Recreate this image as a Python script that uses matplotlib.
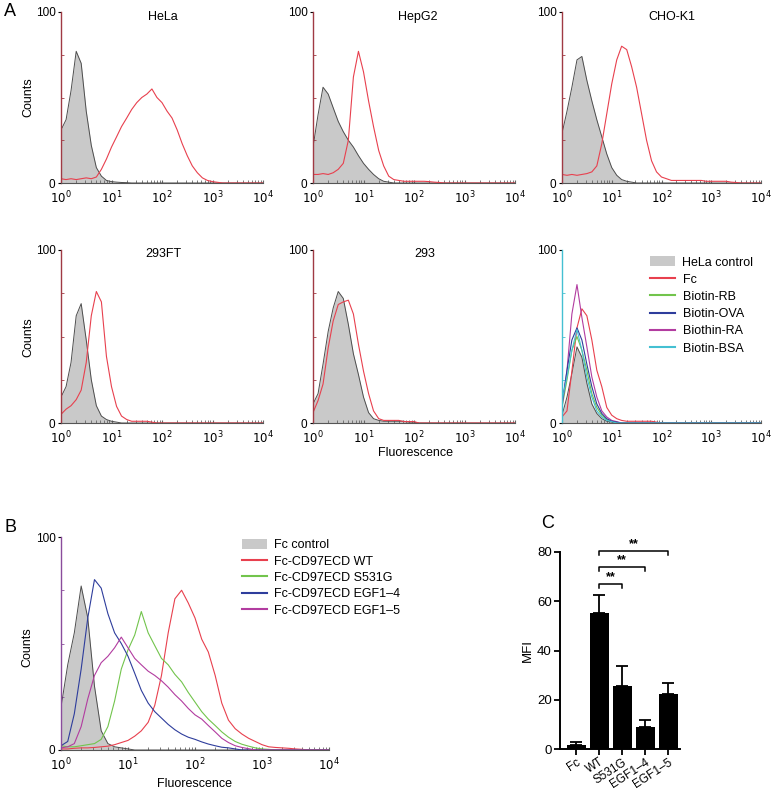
import matplotlib
matplotlib.use("Agg")
import matplotlib.pyplot as plt
from matplotlib.ticker import LogLocator, NullFormatter
from matplotlib.patches import Patch
from matplotlib.lines import Line2D

plt.rcParams["font.family"] = ["Liberation Sans", "DejaVu Sans"]

W, H = 773, 791

# fluorescence channels (0.1 decade steps, 10^0 .. 10^4)
channel = [1.0, 1.26, 1.58, 2.0, 2.51, 3.16, 3.98, 5.01, 6.31, 7.94,
           10.0, 12.6, 15.8, 20.0, 25.1, 31.6, 39.8, 50.1, 63.1, 79.4,
           100, 126, 158, 200, 251, 316, 398, 501, 631, 794,
           1000, 1259, 1585, 1995, 2512, 3162, 3981, 5012, 6310, 7943, 10000]

# ---- panel A, counts ----
hela_ctrl = [31, 37, 54, 77, 70, 42, 22, 9, 4, 1.5,
             0.8, 0.5, 0.3, 0.2, 0, 0, 0, 0, 0, 0,
             0, 0, 0, 0, 0, 0, 0, 0, 0, 0,
             0, 0, 0, 0, 0, 0, 0, 0, 0, 0, 0]
hela_fc = [2.5, 2, 2.5, 2, 2.5, 3, 2.5, 3.5, 8, 14,
           21, 27, 33, 38, 43, 47, 50, 52, 55, 50,
           47, 42, 38, 31, 23, 16, 10, 6, 3, 1.5,
           0.8, 0.4, 0, 0, 0, 0, 0, 0, 0, 0, 0]
hepg2_ctrl = [21, 40, 56, 52, 44, 36, 30, 25, 21, 16,
              11.5, 8, 5, 2.5, 1, 0.5, 0, 0, 0, 0,
              0, 0, 0, 0, 0, 0, 0, 0, 0, 0,
              0, 0, 0, 0, 0, 0, 0, 0, 0, 0, 0]
hepg2_fc = [5, 5, 5.5, 5, 6, 8, 11.5, 25, 62, 77,
            65, 48, 33, 19, 10, 4, 2, 1.5, 1, 1,
            1, 1, 1, 0.8, 0.5, 0.3, 0, 0, 0, 0,
            0, 0, 0, 0, 0, 0, 0, 0, 0, 0, 0]
cho_ctrl = [29, 42, 56, 72, 74, 60, 48, 37, 27, 17,
            9, 4.5, 2, 1, 0.5, 0, 0, 0, 0, 0,
            0, 0, 0, 0, 0, 0, 0, 0, 0, 0,
            0, 0, 0, 0, 0, 0, 0, 0, 0, 0, 0]
cho_fc = [5, 4.5, 5, 4.5, 5, 5.5, 6.5, 10, 23, 40.5,
          58, 72, 80, 78, 68, 56, 40.5, 25, 13, 6.5,
          3.5, 2.5, 1.5, 1.5, 1.5, 1.5, 1.5, 1.5, 1.5, 1,
          1, 1, 1, 1, 0.5, 0.3, 0, 0, 0, 0, 0]
ft293_ctrl = [15, 21, 35, 62, 69, 48, 25, 10, 4, 2,
              1, 0.5, 0, 0, 0, 0, 0, 0, 0, 0,
              0, 0, 0, 0, 0, 0, 0, 0, 0, 0,
              0, 0, 0, 0, 0, 0, 0, 0, 0, 0, 0]
ft293_fc = [5, 8, 10, 13.5, 19, 35, 62, 76, 70, 38.5,
            21, 9.6, 4, 2, 1, 1, 1, 1, 0.5, 0,
            0, 0, 0, 0, 0, 0, 0, 0, 0, 0,
            0, 0, 0, 0, 0, 0, 0, 0, 0, 0, 0]
h293_ctrl = [11, 17, 34, 53, 66.5, 76, 72, 57, 40, 28,
             15, 6, 2.5, 1.5, 1, 1, 1, 1, 1, 0.5,
             0.5, 0, 0, 0, 0, 0, 0, 0, 0, 0,
             0, 0, 0, 0, 0, 0, 0, 0, 0, 0, 0]
h293_fc = [6, 13, 22.5, 43.5, 59, 68.5, 70, 71, 63, 45.5,
           30, 17, 7, 2.5, 1.5, 1.5, 1.5, 1.5, 0.8, 0.8,
           0.8, 0, 0, 0, 0, 0, 0, 0, 0, 0,
           0, 0, 0, 0, 0, 0, 0, 0, 0, 0, 0]
ctl_ctrl = [4.5, 15, 28.5, 44, 38, 23, 11, 5.5, 2.5, 1,
            0.5, 0, 0, 0, 0, 0, 0, 0, 0, 0,
            0, 0, 0, 0, 0, 0, 0, 0, 0, 0,
            0, 0, 0, 0, 0, 0, 0, 0, 0, 0, 0]
ctl_fc = [3.5, 7, 30, 55, 66, 62, 48, 30.5, 21, 9,
          4.5, 2.5, 1.5, 1, 1, 1, 1, 1, 1, 0.5,
          0, 0, 0, 0, 0, 0, 0, 0, 0, 0,
          0, 0, 0, 0, 0, 0, 0, 0, 0, 0, 0]
ctl_rb = [9, 25, 42, 50, 42, 30.5, 17, 9, 4.5, 2,
          1, 0, 0, 0, 0, 0, 0, 0, 0, 0,
          0, 0, 0, 0, 0, 0, 0, 0, 0, 0,
          0, 0, 0, 0, 0, 0, 0, 0, 0, 0, 0]
ctl_ova = [11, 30.5, 48, 55, 48, 34, 21, 11, 5.5, 2.5,
           1, 0.5, 0, 0, 0, 0, 0, 0, 0, 0,
           0, 0, 0, 0, 0, 0, 0, 0, 0, 0,
           0, 0, 0, 0, 0, 0, 0, 0, 0, 0, 0]
ctl_ra = [9, 30.5, 63, 80, 61, 44, 26.6, 15, 7, 3.5,
          1.5, 0.8, 0, 0, 0, 0, 0, 0, 0, 0,
          0, 0, 0, 0, 0, 0, 0, 0, 0, 0,
          0, 0, 0, 0, 0, 0, 0, 0, 0, 0, 0]
ctl_bsa = [13, 26.6, 42, 54, 42, 26.6, 15, 7, 3.5, 1.5,
           0.8, 0, 0, 0, 0, 0, 0, 0, 0, 0,
           0, 0, 0, 0, 0, 0, 0, 0, 0, 0,
           0, 0, 0, 0, 0, 0, 0, 0, 0, 0, 0]

# ---- panel B ----
b_ctrl = [20, 40, 55, 77, 62, 30, 9, 3, 1.5, 1,
          0.5, 0, 0, 0, 0, 0, 0, 0, 0, 0,
          0, 0, 0, 0, 0, 0, 0, 0, 0, 0,
          0, 0, 0, 0, 0, 0, 0, 0, 0, 0, 0]
b_wt = [0.5, 0.5, 0.8, 1, 1, 1.2, 1.5, 1.8, 2.5, 3.5,
        4.5, 6.5, 9, 13, 21, 35, 55, 71, 75, 69,
        62, 52, 46, 35, 22, 14, 10, 7.5, 5.5, 4,
        2.5, 1.5, 1.2, 1, 0.8, 0.5, 0.3, 0, 0, 0, 0]
b_s531g = [2, 1.5, 1.5, 2, 2.5, 3, 5, 11, 23, 38,
           47, 54, 65, 55, 49, 43, 40, 35.5, 32, 27,
           22.5, 18, 14.5, 11.5, 8.5, 6, 4, 2.7, 1.8, 1,
           0.5, 0.3, 0, 0, 0, 0, 0, 0, 0, 0, 0]
b_egf14 = [2, 4, 17, 38, 62, 80, 76, 64, 55, 50,
           44, 36, 28, 22, 18, 15, 12, 9.5, 7.5, 6,
           5, 3.8, 2.8, 2, 1.3, 1, 0.5, 0, 0, 0,
           0, 0, 0, 0, 0, 0, 0, 0, 0, 0, 0]
b_egf15 = [1, 1.5, 3, 11, 24, 35, 41, 44, 48, 53,
           48, 43, 40, 37, 35, 32.5, 29.5, 26, 23, 19.5,
           16.5, 14.5, 11.5, 8.5, 5.5, 3.5, 2, 1.2, 0.6, 0,
           0, 0, 0, 0, 0, 0, 0, 0, 0, 0, 0]

# ---- panel C ----
c_labels = ["Fc", "WT", "S531G", "EGF1\u20134", "EGF1\u20135"]
c_mfi = [1.8, 55.4, 25.7, 9.1, 22.4]
c_err = [1.2, 7.2, 8.0, 2.7, 4.3]
c_pairs = [(1, 2), (1, 3), (1, 4)]
c_bracket_y = [67, 74, 80.5]

GRAY = "#c9c9c9"
EDGE = "#4d4d4d"
RED = "#e8404e"
GREEN = "#72c44c"
BLUE = "#2e3d9c"
MAG = "#b23ca0"
CYAN = "#44c0d2"
DARKRED = "#a03a44"

fig = plt.figure(figsize=(W / 100, H / 100), dpi=100)


def px_rect(l, r, t, b):
    return [l / W, 1 - b / H, (r - l) / W, (b - t) / H]


def hist_axes(l, r, t, b, spine_color):
    ax = fig.add_axes(px_rect(l, r, t, b))
    ax.set_xscale("log")
    ax.set_xlim(1, 1e4)
    ax.set_ylim(0, 100)
    for s in ["top", "right"]:
        ax.spines[s].set_visible(False)
    ax.spines["left"].set_color(spine_color)
    ax.spines["left"].set_linewidth(1.0)
    ax.spines["bottom"].set_color("#555555")
    ax.spines["bottom"].set_linewidth(0.8)
    ax.set_yticks([0, 100])
    ax.set_yticks([25, 50, 75], minor=True)
    ax.tick_params(axis="y", which="major", length=2, labelsize=8.5, pad=2)
    ax.tick_params(axis="y", which="minor", length=2, direction="in", color=spine_color)
    ax.set_xticks([1, 10, 100, 1000, 10000])
    ax.set_xticklabels([r"$10^0$", r"$10^1$", r"$10^2$", r"$10^3$", r"$10^4$"])
    ax.xaxis.set_minor_locator(LogLocator(base=10, subs=range(2, 10)))
    ax.xaxis.set_minor_formatter(NullFormatter())
    ax.tick_params(axis="x", which="both", length=2, direction="in", color="#666666",
                   labelsize=8.5, pad=5)
    return ax


def draw_ctrl(ax, vals):
    ax.fill_between(channel, vals, color=GRAY, lw=0)
    ax.plot(channel, vals, color=EDGE, lw=0.7)


# row 1
ax = hist_axes(61, 263, 12, 183, DARKRED)
draw_ctrl(ax, hela_ctrl)
ax.plot(channel, hela_fc, color=RED, lw=0.8)
ax = hist_axes(313, 515, 12, 183, DARKRED)
draw_ctrl(ax, hepg2_ctrl)
ax.plot(channel, hepg2_fc, color=RED, lw=0.8)
ax = hist_axes(562, 761, 12, 183, DARKRED)
draw_ctrl(ax, cho_ctrl)
ax.plot(channel, cho_fc, color=RED, lw=0.8)

# row 2
ax = hist_axes(61, 263, 250, 423, DARKRED)
draw_ctrl(ax, ft293_ctrl)
ax.plot(channel, ft293_fc, color=RED, lw=0.8)
ax = hist_axes(313, 515, 250, 423, DARKRED)
draw_ctrl(ax, h293_ctrl)
ax.plot(channel, h293_fc, color=RED, lw=0.8)
ax = hist_axes(562, 761, 250, 423, CYAN)
draw_ctrl(ax, ctl_ctrl)
ax.plot(channel, ctl_fc, color=RED, lw=0.8)
ax.plot(channel, ctl_rb, color=GREEN, lw=0.8)
ax.plot(channel, ctl_ra, color=MAG, lw=0.8)
ax.plot(channel, ctl_ova, color=BLUE, lw=0.8)
ax.plot(channel, ctl_bsa, color=CYAN, lw=0.8)
handles = [Patch(color=GRAY, lw=0),
           Line2D([], [], color=RED, lw=1.5),
           Line2D([], [], color=GREEN, lw=1.5),
           Line2D([], [], color=BLUE, lw=1.5),
           Line2D([], [], color=MAG, lw=1.5),
           Line2D([], [], color=CYAN, lw=1.5)]
fig.legend(handles, ["HeLa control", "Fc", "Biotin-RB", "Biotin-OVA", "Biothin-RA", "Biotin-BSA"],
           loc="upper left", bbox_to_anchor=(650 / W, 1 - 256 / H), frameon=False,
           fontsize=9, handlelength=2.0, handleheight=0.9, handletextpad=0.6,
           labelspacing=0.38, borderpad=0, borderaxespad=0)

# titles and labels of A
for x, y, t in [(163, 17, "HeLa"), (418, 17, "HepG2"), (672, 17, "CHO-K1"),
                (163, 254, "293FT"), (425, 254, "293")]:
    fig.text(x / W, 1 - y / H, t, ha="center", va="center", fontsize=9)
fig.text(28 / W, 1 - 97 / H, "Counts", rotation=90, ha="center", va="center", fontsize=9)
fig.text(28 / W, 1 - 337 / H, "Counts", rotation=90, ha="center", va="center", fontsize=9)
fig.text(416 / W, 1 - 453 / H, "Fluorescence", ha="center", va="center", fontsize=9)

# panel B
ax = hist_axes(61, 329, 537, 750, "#8a4c9c")
draw_ctrl(ax, b_ctrl)
ax.plot(channel, b_wt, color=RED, lw=0.8)
ax.plot(channel, b_s531g, color=GREEN, lw=0.8)
ax.plot(channel, b_egf14, color=BLUE, lw=0.8)
ax.plot(channel, b_egf15, color=MAG, lw=0.8)
fig.text(27 / W, 1 - 647 / H, "Counts", rotation=90, ha="center", va="center", fontsize=9)
fig.text(195 / W, 1 - 784 / H, "Fluorescence", ha="center", va="center", fontsize=9)
handles = [Patch(color=GRAY, lw=0),
           Line2D([], [], color=RED, lw=1.5),
           Line2D([], [], color=GREEN, lw=1.5),
           Line2D([], [], color=BLUE, lw=1.5),
           Line2D([], [], color=MAG, lw=1.5)]
fig.legend(handles, ["Fc control", "Fc-CD97ECD WT", "Fc-CD97ECD S531G",
                     "Fc-CD97ECD EGF1\u20134", "Fc-CD97ECD EGF1\u20135"],
           loc="upper left", bbox_to_anchor=(242 / W, 1 - 539 / H), frameon=False,
           fontsize=9, handlelength=2.0, handleheight=0.9, handletextpad=0.6,
           labelspacing=0.3, borderpad=0, borderaxespad=0)

# panel C
axc = fig.add_axes(px_rect(560, 680, 552, 749))
pos = list(range(len(c_labels)))
axc.bar(pos, c_mfi, width=0.82, color="black")
axc.errorbar(pos, c_mfi, yerr=[[0] * len(c_err), c_err], fmt="none", ecolor="black",
             elinewidth=1.3, capsize=4, capthick=1.3)
axc.set_xlim(-0.7, 4.5)
axc.set_ylim(0, 80)
axc.set_yticks([0, 20, 40, 60, 80])
axc.set_xticks(pos)
axc.set_xticklabels(c_labels, rotation=33, ha="right", va="top", rotation_mode="anchor",
                    fontsize=8.5)
for s in ["top", "right"]:
    axc.spines[s].set_visible(False)
for s in ["left", "bottom"]:
    axc.spines[s].set_linewidth(1.4)
axc.tick_params(axis="both", length=4, width=1.3, pad=2)
axc.tick_params(axis="y", labelsize=9.5)
axc.tick_params(axis="x", pad=1)
axc.set_ylabel("MFI", fontsize=9.5, labelpad=2)
for (a, b), yb in zip(c_pairs, c_bracket_y):
    axc.plot([a, a, b, b], [yb - 1.6, yb, yb, yb - 1.6], color="black", lw=1.1, clip_on=False)
    axc.text((a + b) / 2, yb + 0.3, "**", ha="center", va="bottom", fontsize=9,
             fontweight="bold", clip_on=False)

# panel letters
fig.text(4 / W, 1 - 12 / H, "A", ha="left", va="center", fontsize=13)
fig.text(4 / W, 1 - 527 / H, "B", ha="left", va="center", fontsize=13)
fig.text(541 / W, 1 - 524 / H, "C", ha="left", va="center", fontsize=13)

fig.savefig("out.png", dpi=100)
